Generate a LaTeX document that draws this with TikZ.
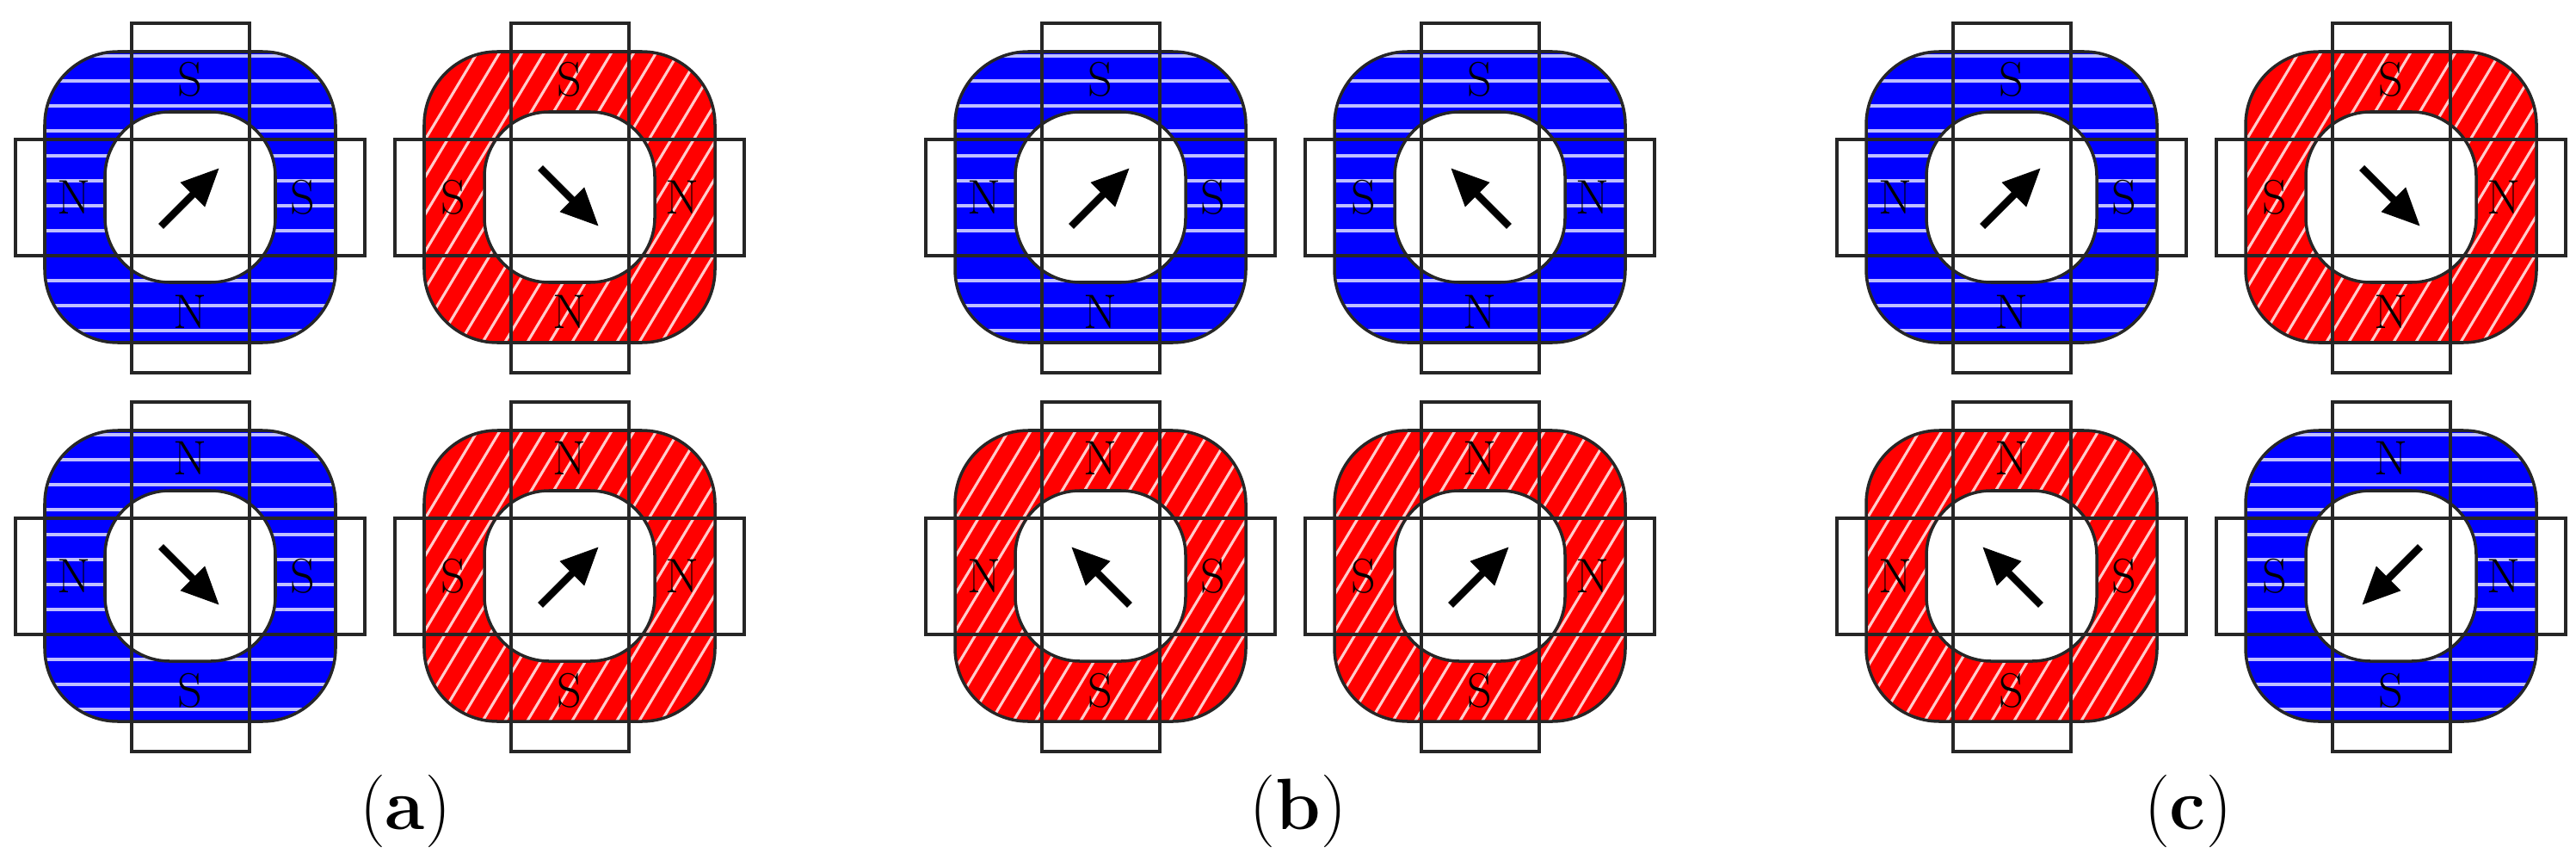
\documentclass[tikz,border=0pt]{standalone}
\usetikzlibrary{arrows.meta}
\definecolor{colb}{RGB}{0,0,255}
\definecolor{colr}{RGB}{255,0,0}
\tikzset{
  poletext/.style={font=\fontsize{16}{18}\selectfont, inner sep=0pt},
  polerect/.style={draw=black!85, line width=1pt},
  ringline/.style={draw=black!85, line width=1pt},
  magarrow/.style={line width=2.4pt, -{Triangle[length=0.44cm,width=0.38cm]}},
  bluehatch/.style={draw=blue!25!white, line width=0.9pt},
  redhatch/.style={draw=red!20!white, line width=0.9pt},
  caption/.style={font=\fontsize{24}{28}\selectfont, inner sep=0pt}
}
% #1 id, #2 cx, #3 cy, #4 colour (b/r), #5 top, #6 bottom, #7 left, #8 right, #9 angle
\newcommand\magunit[9]{%
\begin{scope}[shift={(#2,#3)}]
  \begin{scope}[even odd rule]
    \clip [rounded corners=0.85cm] (-1.69,-1.69) rectangle (1.69,1.69)
      [rounded corners=0.75cm] (-0.99,-0.99) rectangle (0.99,0.99);
    \fill[fill=col#4] (-1.8,-1.8) rectangle (1.8,1.8);
    \if#4b
      \foreach \k in {-6,...,6} \draw[bluehatch] (-1.8,\k*0.29-0.1) -- (1.8,\k*0.29-0.1);
    \else
      \foreach \k in {-14,...,14} \draw[redhatch] (\k*0.26-1.2,-2) -- (\k*0.26+1.2,2);
    \fi
  \end{scope}
  \draw[ringline, rounded corners=0.85cm] (-1.69,-1.69) rectangle (1.69,1.69);
  \draw[ringline, rounded corners=0.75cm] (-0.99,-0.99) rectangle (0.99,0.99);
  \draw[polerect] (-0.68,-2.04) rectangle (0.69,2.02);
  \draw[polerect] (-2.03,-0.68) rectangle (2.03,0.67);
  \node[poletext] (#1t) at (0,1.37) {#5};
  \node[poletext] (#1b) at (0,-1.33) {#6};
  \node[poletext] (#1l) at (-1.35,0) {#7};
  \node[poletext] (#1r) at (1.31,0) {#8};
  \coordinate (#1s) at (#9+180:0.48);
  \coordinate (#1e) at (#9:0.48);
  \draw[magarrow] (#1s) -- (#1e);
\end{scope}}
\begin{document}
\begin{tikzpicture}
\useasboundingbox (0,0) rectangle (29.94,9.98);
\magunit{a1}{2.21}{7.69}{b}{S}{N}{N}{S}{45}
\magunit{a2}{6.62}{7.69}{r}{S}{N}{S}{N}{-45}
\magunit{a3}{2.21}{3.29}{b}{N}{S}{N}{S}{-45}
\magunit{a4}{6.62}{3.29}{r}{N}{S}{S}{N}{45}
\magunit{b1}{12.79}{7.69}{b}{S}{N}{N}{S}{45}
\magunit{b2}{17.20}{7.69}{b}{S}{N}{S}{N}{135}
\magunit{b3}{12.79}{3.29}{r}{N}{S}{N}{S}{135}
\magunit{b4}{17.20}{3.29}{r}{N}{S}{S}{N}{45}
\magunit{c1}{23.38}{7.69}{b}{S}{N}{N}{S}{45}
\magunit{c2}{27.79}{7.69}{r}{S}{N}{S}{N}{-45}
\magunit{c3}{23.38}{3.29}{r}{N}{S}{N}{S}{135}
\magunit{c4}{27.79}{3.29}{b}{N}{S}{S}{N}{-135}
\node[caption] (capa) at (4.71,0.56) {(\textbf{a})};
\node[caption] (capb) at (15.09,0.56) {(\textbf{b})};
\node[caption] (capc) at (25.43,0.56) {(\textbf{c})};
\end{tikzpicture}
\end{document}
